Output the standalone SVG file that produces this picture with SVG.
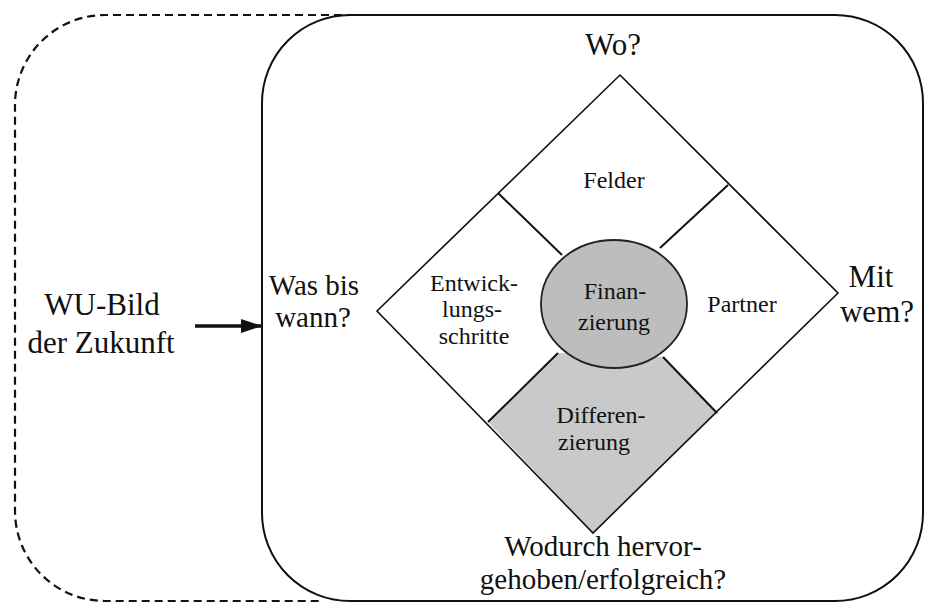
<svg xmlns="http://www.w3.org/2000/svg" width="926" height="604" viewBox="0 0 926 604">
<style>
text{font-family:"Liberation Serif","DejaVu Serif","Times New Roman",serif;fill:#111;text-anchor:middle}
.big{font-size:31px}
.lab{font-size:29px}
.mid{font-size:24px}
.edge{fill:none;stroke:#111;stroke-width:2}
.thin{fill:none;stroke:#111;stroke-width:1.6}
</style>
<defs>
<marker id="ah" markerWidth="22" markerHeight="16" refX="20" refY="8" orient="auto" markerUnits="userSpaceOnUse" viewBox="0 0 22 16">
<path d="M0,1 L21,8 L0,15 z" fill="#111"/>
</marker>
</defs>
<rect width="926" height="604" fill="#fff"/>
<g id="frame-dashed">
<path d="M355,15 H105 A90,90 0 0 0 15,105 V512 A90,90 0 0 0 105,601 H320" fill="none" stroke="#111" stroke-width="2.2" stroke-dasharray="8,5"/>
</g>
<g id="frame-solid">
<rect x="262" y="15" width="661" height="586" rx="88" ry="88" class="edge"/>
</g>
<g id="source">
<text class="big" x="102" y="315">WU-Bild</text>
<text class="big" x="101" y="353">der Zukunft</text>
</g>
<g id="connectors">
<line x1="195" y1="326" x2="261" y2="326" stroke="#111" stroke-width="3.5" marker-end="url(#ah)"/>
</g>
<g id="diamond">
<polygon id="quad-bottom" points="488,422 558,353 663,357 717,413 593,533" fill="#c9c9c9" stroke="none"/>
<polygon points="620,75 838,293 593,533 377,311" class="thin"/>
<line x1="498" y1="193" x2="562" y2="255" class="edge"/>
<line x1="728" y1="185" x2="660" y2="248" class="edge"/>
<line x1="488" y1="422" x2="558" y2="353" class="edge"/>
<line x1="717" y1="413" x2="663" y2="357" class="edge"/>
</g>
<g id="felder"><text class="mid" x="614" y="188">Felder</text></g>
<g id="entwicklung">
<text class="mid" x="474" y="291">Entwick-</text>
<text class="mid" x="472" y="317">lungs-</text>
<text class="mid" x="474" y="344">schritte</text>
</g>
<g id="partner"><text class="mid" x="742" y="312">Partner</text></g>
<g id="differenzierung">
<text class="mid" x="601" y="423">Differen-</text>
<text class="mid" x="594" y="450">zierung</text>
</g>
<g id="finanzierung">
<ellipse cx="614" cy="304" rx="73" ry="64" fill="#bdbdbd" stroke="#222" stroke-width="1.8"/>
<text class="mid" x="615" y="299">Finan-</text>
<text class="mid" x="614" y="330">zierung</text>
</g>
<g id="labels">
<text class="big" x="613" y="55">Wo?</text>
<text class="lab" x="314" y="295">Was bis</text>
<text class="lab" x="313" y="327">wann?</text>
<text class="big" x="871" y="287">Mit</text>
<text class="big" x="877" y="322">wem?</text>
<text class="lab" x="603" y="556">Wodurch hervor-</text>
<text class="lab" x="603" y="589">gehoben/erfolgreich?</text>
</g>
</svg>
